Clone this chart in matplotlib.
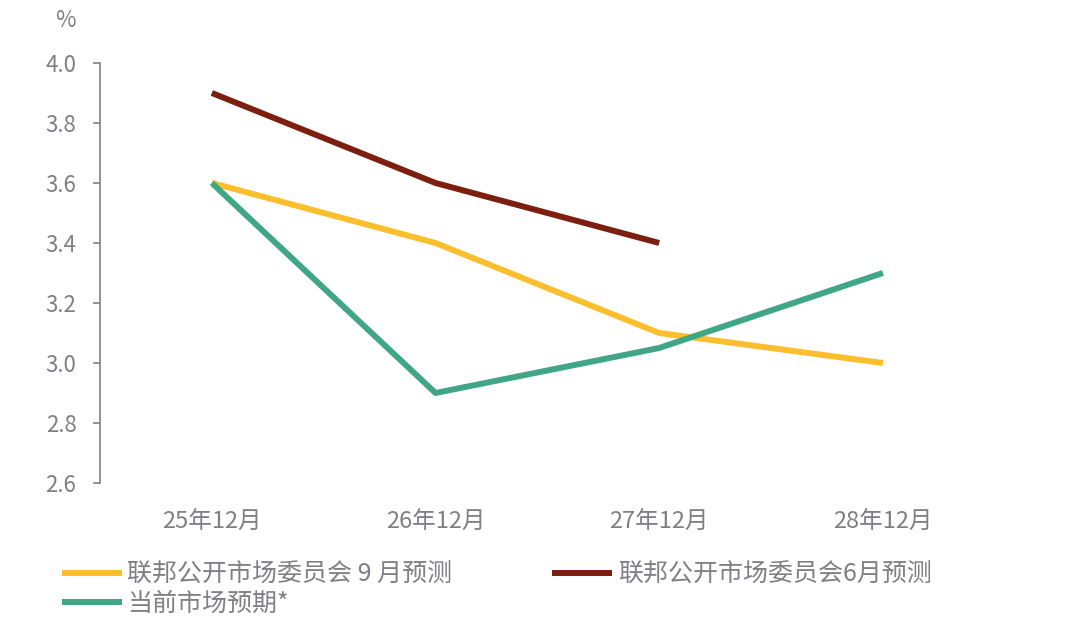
import matplotlib as mpl; mpl.use("Agg")
import matplotlib.pyplot as plt
import numpy as np

plt.rcParams["font.family"] = ["Noto Sans CJK SC", "DejaVu Sans"]

categories = ["25年12月", "26年12月", "27年12月", "28年12月"]
fomc_sep = [3.6, 3.4, 3.1, 3.0]
fomc_jun = [3.9, 3.6, 3.4, np.nan]
market = [3.6, 2.9, 3.05, 3.3]

GRAY = "#7f7f86"
c_sep, c_jun, c_mkt = "#fbbf2e", "#7d1f10", "#41a686"

fig = plt.figure(figsize=(10.8, 6.33), dpi=100)
ax = fig.add_axes([0.0926, 0.237, 0.8284, 0.6635])
x = np.arange(len(categories))
lw = 4.3
l1, = ax.plot(x, fomc_sep, c=c_sep, lw=lw, solid_capstyle="butt", label="联邦公开市场委员会 9 月预测")
l2, = ax.plot(x, fomc_jun, c=c_jun, lw=lw, solid_capstyle="butt", label="联邦公开市场委员会6月预测")
l3, = ax.plot(x, market, c=c_mkt, lw=lw, solid_capstyle="butt", label="当前市场预期*")

ax.set_xlim(-0.5, 3.5); ax.set_ylim(2.6, 4.0)
ax.set_yticks(np.arange(2.6, 4.01, 0.2))
ax.set_yticklabels([f"{v:.1f}" for v in np.arange(2.6, 4.01, 0.2)])
ax.set_xticks(x); ax.set_xticklabels(categories)
for s in ["top", "right", "bottom"]:
    ax.spines[s].set_visible(False)
ax.spines["left"].set_color(GRAY); ax.spines["left"].set_linewidth(1.2)
ax.tick_params(axis="y", colors=GRAY, labelsize=16, length=5, width=1.2, pad=12)
ax.tick_params(axis="x", colors=GRAY, labelsize=17, length=0, pad=20)
fig.text(0.051, 0.967, "%", color=GRAY, fontsize=16, ha="left", va="center")

leg = fig.legend([l1, l3, l2], [l1.get_label(), l3.get_label(), l2.get_label()],
                 ncol=2, loc="upper left", bbox_to_anchor=(0.048, 0.128), frameon=False,
                 fontsize=18, handlelength=2.4, handletextpad=0.22, columnspacing=4.0,
                 labelspacing=0.12, borderaxespad=0)
for t in leg.get_texts():
    t.set_color(GRAY)

fig.savefig("out.png", dpi=100)
